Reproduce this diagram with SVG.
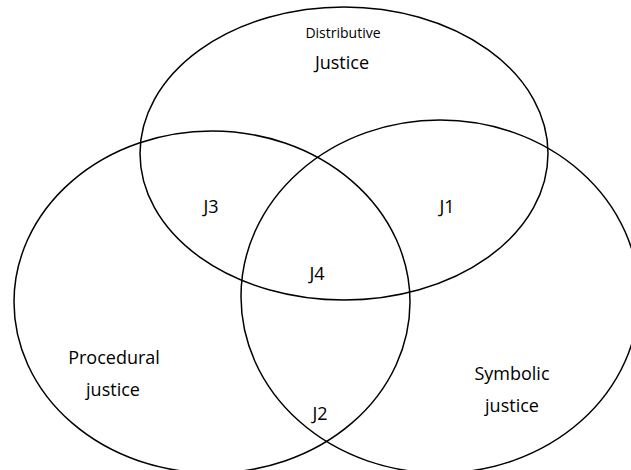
<svg xmlns="http://www.w3.org/2000/svg" width="631" height="470" viewBox="0 0 631 470">
<style>
.c{fill:none;stroke:#000;stroke-width:1.5}
.t{font-family:"Open Sans","Liberation Sans",sans-serif;font-size:18px;fill:#000;text-anchor:middle}
.s{font-size:14px}
</style>
<rect width="631" height="470" fill="#fff"/>
<g id="distributive"><ellipse class="c" cx="344" cy="153.5" rx="204" ry="146.5"/></g>
<g id="procedural"><ellipse class="c" cx="212" cy="302" rx="198" ry="171"/></g>
<g id="symbolic"><ellipse class="c" cx="440" cy="296.5" rx="199" ry="176.5"/></g>
<g id="labels">
<text class="t s" x="343" y="38">Distributive</text>
<text class="t" x="342" y="69">Justice</text>
<text class="t" x="211" y="213">J3</text>
<text class="t" x="447" y="213">J1</text>
<text class="t" x="317" y="280">J4</text>
<text class="t" x="114" y="364">Procedural</text>
<text class="t" x="113" y="396">justice</text>
<text class="t" x="512" y="380">Symbolic</text>
<text class="t" x="512" y="412">justice</text>
<text class="t" x="320" y="420">J2</text>
</g>
</svg>
